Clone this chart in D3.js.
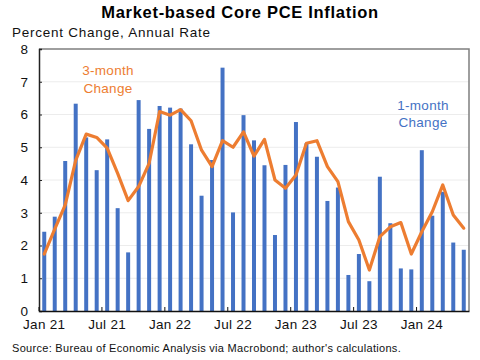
<!DOCTYPE html>
<html><head><meta charset="utf-8">
<script src="https://cdn.jsdelivr.net/npm/d3@7"></script>
<style>body{margin:0;background:#fff}svg{display:block}text{font-family:Arial,"Liberation Sans",sans-serif}</style>
</head><body><svg id="c" width="480" height="360"></svg>
<script>
const months = ["Jan 21","Feb 21","Mar 21","Apr 21","May 21","Jun 21","Jul 21","Aug 21","Sep 21","Oct 21","Nov 21","Dec 21",
"Jan 22","Feb 22","Mar 22","Apr 22","May 22","Jun 22","Jul 22","Aug 22","Sep 22","Oct 22","Nov 22","Dec 22",
"Jan 23","Feb 23","Mar 23","Apr 23","May 23","Jun 23","Jul 23","Aug 23","Sep 23","Oct 23","Nov 23","Dec 23",
"Jan 24","Feb 24","Mar 24","Apr 24","May 24"];
const oneMonth = [2.42,2.88,4.58,6.33,5.30,4.30,5.24,3.14,1.79,6.44,5.56,6.26,
6.21,6.18,5.09,3.52,4.61,7.43,3.01,5.98,5.21,4.45,2.32,4.46,
5.77,5.12,4.71,3.36,3.77,1.10,1.74,0.91,4.10,2.68,1.30,1.27,
4.91,2.91,3.64,2.09,1.87];
const threeMonth = [1.74,2.5,3.24,4.6,5.4,5.3,4.97,4.2,3.37,3.8,4.51,6.09,
5.98,6.15,5.81,4.91,4.41,5.2,5.0,5.47,4.73,5.24,4.0,3.75,
4.15,5.12,5.2,4.41,3.95,2.73,2.17,1.25,2.27,2.57,2.70,1.74,
2.42,3.03,3.85,2.93,2.53];
const yTicks = [0,1,2,3,4,5,6,7,8];
const xLabels = ["Jan 21","Jul 21","Jan 22","Jul 22","Jan 23","Jul 23","Jan 24"];

const svg = d3.select("#c");
const L=39,R=469,T=49,B=311;
const x = d3.scaleBand().domain(months).range([L,R]).paddingInner(0.62).paddingOuter(0.31);
const y = d3.scaleLinear().domain([0,8]).range([B,T]);
const blue="#4472C4", orange="#ED7D31";
const FF = "Arial,'Liberation Sans',sans-serif";

svg.append("text").attr("x",240).attr("y",18).attr("text-anchor","middle")
  .attr("font-size",16.5).attr("font-weight","bold").attr("letter-spacing",0.7).text("Market-based Core PCE Inflation");
svg.append("text").attr("x",12).attr("y",37).attr("font-size",13.5).attr("letter-spacing",0.75).attr("fill","#111").text("Percent Change, Annual Rate");

// gridlines
svg.append("g").selectAll("line").data(yTicks.filter(d=>d>0&&d<8)).join("line")
  .attr("x1",L).attr("x2",R).attr("y1",d=>y(d)).attr("y2",d=>y(d)).attr("stroke","#ececec").attr("stroke-width",1);

// box top/right
svg.append("path").attr("d",`M${L},${T}H${R}V${B}`).attr("fill","none").attr("stroke","#7f7f7f").attr("stroke-width",1.5);

// bars
svg.append("g").selectAll("rect").data(oneMonth).join("rect")
  .attr("x",(d,i)=>x(months[i])).attr("width",x.bandwidth())
  .attr("y",d=>y(d)).attr("height",d=>y(0)-y(d)).attr("fill",blue);

// line
const line = d3.line().x((d,i)=>x(months[i])+x.bandwidth()/2).y(d=>y(d)).curve(d3.curveLinear);
svg.append("path").datum(threeMonth).attr("d",line).attr("fill","none").attr("stroke",orange)
  .attr("stroke-width",3.2).attr("stroke-linejoin","round").attr("stroke-linecap","round");

// y axis
const yAxis = svg.append("g").attr("transform",`translate(${L},0)`)
  .call(d3.axisLeft(y).tickValues(yTicks).tickSize(-3).tickPadding(11).tickFormat(d3.format("d")));
yAxis.select(".domain").attr("stroke","#222").attr("stroke-width",1.5);
yAxis.selectAll(".tick line").attr("stroke","#222");
yAxis.selectAll("text").attr("font-size",13.5).attr("fill","#111").attr("font-family",FF);

// x axis
const step = x.step();
const xAxis = svg.append("g").attr("transform",`translate(0,${B})`)
  .call(d3.axisBottom(x).tickValues(xLabels).tickSize(0).tickPadding(8));
xAxis.select(".domain").attr("stroke","#111").attr("stroke-width",1.5);
xAxis.selectAll("text").attr("font-size",13.5).attr("letter-spacing",0.3).attr("fill","#111").attr("font-family",FF);
xAxis.selectAll(".tick").append("line").attr("x1",-step/2).attr("x2",-step/2).attr("y1",0).attr("y2",-4).attr("stroke","#111");

// annotations
const ann = svg.append("g").attr("font-size",13.5).attr("text-anchor","middle").attr("letter-spacing",0.3);
ann.append("text").attr("x",108).attr("y",75).attr("fill",orange).text("3-month");
ann.append("text").attr("x",108).attr("y",93).attr("fill",orange).text("Change");
ann.append("text").attr("x",423).attr("y",110).attr("fill",blue).text("1-month");
ann.append("text").attr("x",423).attr("y",127).attr("fill",blue).text("Change");

svg.append("text").attr("x",12).attr("y",352).attr("font-size",11).attr("letter-spacing",0.3).attr("fill","#111")
  .text("Source: Bureau of Economic Analysis via Macrobond; author's calculations.");
</script></body></html>
